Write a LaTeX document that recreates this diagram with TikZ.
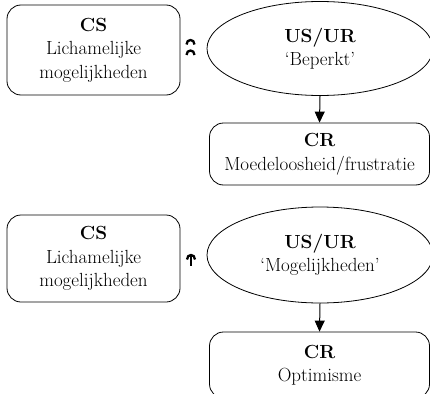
\documentclass[tikz,border=0pt]{standalone}
\usetikzlibrary{shapes.geometric,arrows.meta}
\begin{document}
\begin{tikzpicture}[x=1pt,y=-1pt,
  txt/.style={align=center,font=\fontsize{19}{23.5}\selectfont,inner sep=0pt},
  rbox/.style={txt,draw,line width=0.8pt,rounded corners=14pt},
  ell/.style={txt,draw,line width=0.8pt,ellipse},
  arr/.style={line width=1pt,-{Triangle[width=10pt,length=11pt]}},
  sym/.style={line width=2.3pt}]
\useasboundingbox (0,0) rectangle (430,393);
% top
\node[rbox,minimum width=173pt,minimum height=90pt] (cs1) at (93.5,50) {\textbf{CS}\\Lichamelijke\\mogelijkheden};
\node[ell,minimum width=226pt,minimum height=94pt] (us1) at (320,48.5) {\textbf{US/UR}\\`Beperkt'};
\node[rbox,minimum width=220pt,minimum height=62pt] (cr1) at (319.5,154) {\textbf{CR}\\Moedeloosheid/frustratie};
\draw[arr] (us1.south) -- (cr1.north);
\draw[sym] (186.5,44.5) .. controls (186.5,38.5) and (194.5,38.5) .. (194.5,44.5);
\draw[sym] (186.5,55) .. controls (186.5,49) and (194.5,49) .. (194.5,55);
% bottom
\node[rbox,minimum width=173pt,minimum height=87pt] (cs2) at (93.5,258.5) {\textbf{CS}\\Lichamelijke\\mogelijkheden};
\node[ell,minimum width=226pt,minimum height=96pt] (us2) at (320,255) {\textbf{US/UR}\\`Mogelijkheden'};
\node[rbox,minimum width=220pt,minimum height=66pt] (cr2) at (319.5,365) {\textbf{CR}\\Optimisme};
\draw[arr] (us2.south) -- (cr2.north);
\draw[sym] (187,259.5) .. controls (187,253.5) and (195,253.5) .. (195,259.5);
\draw[line width=1.6pt] (191,254.5) -- (191,265.5);
\end{tikzpicture}
\end{document}
